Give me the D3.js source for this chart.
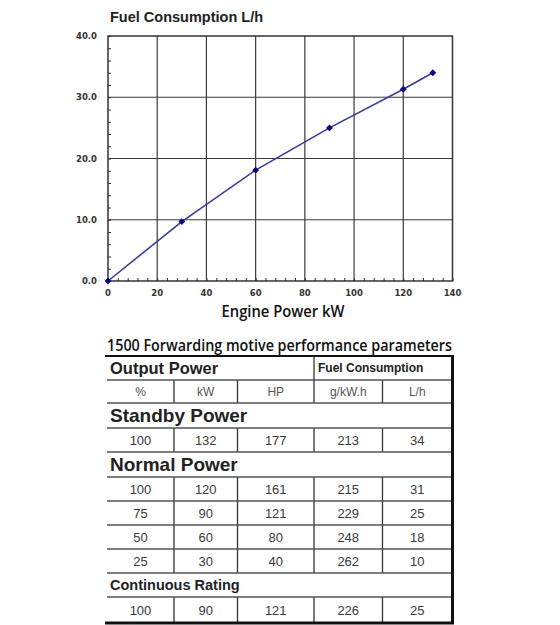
<!DOCTYPE html>
<html>
<head>
<meta charset="utf-8">
<script src="https://cdn.jsdelivr.net/npm/d3@7"></script>
<style>
  body { margin: 0; background: #fff; }
  svg { display: block; }
</style>
</head>
<body>
<svg width="560" height="625"></svg>
<script>
// curve points
const powerKw = [0, 30, 60, 90, 120, 132]
const fuelLh = [0, 9.7, 18.1, 25.0, 31.3, 34.0]
const xTicks = [0, 20, 40, 60, 80, 100, 120, 140]
const yTicks = [0, 10, 20, 30, 40]

// table
const colHeads = ['%', 'kW', 'HP', 'g/kW.h', 'L/h']
const standbyRows = [[100, 132, 177, 213, 34]]
const normalRows = [
  [100, 120, 161, 215, 31],
  [75, 90, 121, 229, 25],
  [50, 60, 80, 248, 18],
  [25, 30, 40, 262, 10]
]
const continuousRows = [[100, 90, 121, 226, 25]]

let svg = d3.select('svg')

// ---------- chart ----------
let x = d3.scaleLinear().domain([0, 140]).range([108, 452.5])
let y = d3.scaleLinear().domain([0, 40]).range([281, 36])

svg.append('text')
  .text('Fuel Consumption L/h')
  .attr('x', 110).attr('y', 21.5)
  .attr('font-family', 'Liberation Sans, Arial, sans-serif')
  .attr('font-weight', 'bold')
  .attr('font-size', 14.5)
  .attr('fill', '#222')

let plot = svg.append('g')

// grid
plot.selectAll('.vg').data(xTicks.slice(1, -1)).enter()
  .append('line')
  .attr('x1', d => x(d)).attr('x2', d => x(d))
  .attr('y1', y(40)).attr('y2', y(0))
  .attr('stroke', '#3a3a3a').attr('stroke-width', 1.2)
plot.selectAll('.hg').data(yTicks.slice(1, -1)).enter()
  .append('line')
  .attr('x1', x(0)).attr('x2', x(140))
  .attr('y1', d => y(d)).attr('y2', d => y(d))
  .attr('stroke', '#3a3a3a').attr('stroke-width', 1.2)

plot.append('rect')
  .attr('x', x(0)).attr('y', y(40))
  .attr('width', x(140) - x(0)).attr('height', y(0) - y(40))
  .attr('fill', 'none').attr('stroke', '#333').attr('stroke-width', 1.5)

// inward minor ticks
let xAxis = d3.axisTop(x).tickValues(d3.range(0, 141, 4)).tickSize(3).tickFormat('')
plot.append('g').attr('transform', `translate(0,${y(0)})`).call(xAxis)
  .call(g => g.select('.domain').remove())
  .selectAll('line').attr('stroke', '#333')
let yAxis = d3.axisRight(y).tickValues(d3.range(0, 41, 2)).tickSize(3).tickFormat('')
plot.append('g').attr('transform', `translate(${x(0)},0)`).call(yAxis)
  .call(g => g.select('.domain').remove())
  .selectAll('line').attr('stroke', '#333')

// tick labels
plot.selectAll('.xl').data(xTicks).enter()
  .append('text')
  .text(d => d)
  .attr('x', d => x(d)).attr('y', 296)
  .attr('text-anchor', 'middle')
  .attr('font-family', 'DejaVu Sans, sans-serif')
  .attr('font-weight', 'bold')
  .attr('font-size', 8.5)
  .attr('fill', '#333')
plot.selectAll('.yl').data(yTicks).enter()
  .append('text')
  .text(d => d3.format('.1f')(d))
  .attr('x', 97).attr('y', d => y(d) + 3)
  .attr('text-anchor', 'end')
  .attr('font-family', 'DejaVu Sans, sans-serif')
  .attr('font-weight', 'bold')
  .attr('font-size', 8.5)
  .attr('fill', '#333')

svg.append('text')
  .text('Engine Power kW')
  .attr('x', 283).attr('y', 316.5)
  .attr('text-anchor', 'middle')
  .attr('textLength', 123).attr('lengthAdjust', 'spacingAndGlyphs')
  .attr('font-family', 'Open Sans, sans-serif')
  .attr('font-weight', 600)
  .attr('font-size', 15.5)
  .attr('fill', '#111')

// line + markers
let pts = powerKw.map((p, i) => [p, fuelLh[i]])
plot.append('path')
  .datum(pts)
  .attr('d', d3.line().x(d => x(d[0])).y(d => y(d[1])))
  .attr('fill', 'none')
  .attr('stroke', '#3b3b9c')
  .attr('stroke-width', 1.6)
plot.selectAll('.pt').data(pts).enter()
  .append('path')
  .attr('d', d3.symbol(d3.symbolDiamond2, 30))
  .attr('transform', d => `translate(${x(d[0])},${y(d[1])})`)
  .attr('fill', '#0a0a80')

// ---------- table ----------
svg.append('text')
  .text('1500 Forwarding motive performance parameters')
  .attr('x', 107).attr('y', 350.5)
  .attr('textLength', 345).attr('lengthAdjust', 'spacingAndGlyphs')
  .attr('font-family', 'Open Sans, sans-serif')
  .attr('font-weight', 600)
  .attr('font-size', 15.5)
  .attr('fill', '#111')

const cols = [107, 174, 237.5, 314, 382.5, 452]
const rowEdges = [356, 380, 403, 428, 452, 477, 501, 525, 549, 573, 597, 623]
let tbl = svg.append('g')
let cx = i => (cols[i] + cols[i + 1]) / 2
let font = 'Liberation Sans, Arial, sans-serif'

// row layout: kind of each row
let rows = [
  { kind: 'top' },
  { kind: 'head', cells: colHeads },
  { kind: 'section', label: 'Standby Power', size: 19 },
  ...standbyRows.map(r => ({ kind: 'data', cells: r })),
  { kind: 'section', label: 'Normal Power', size: 19 },
  ...normalRows.map(r => ({ kind: 'data', cells: r })),
  { kind: 'section', label: 'Continuous Rating', size: 14.5 },
  ...continuousRows.map(r => ({ kind: 'data', cells: r }))
]

rows.forEach((r, i) => {
  let y0 = rowEdges[i], y1 = rowEdges[i + 1]
  let mid = (y0 + y1) / 2
  if (r.kind === 'top') {
    tbl.append('text').text('Output Power')
      .attr('x', 110).attr('y', mid + 6)
      .attr('font-family', font).attr('font-weight', 'bold')
      .attr('font-size', 16.5).attr('fill', '#222')
    tbl.append('text').text('Fuel Consumption')
      .attr('x', 318).attr('y', mid + 4)
      .attr('font-family', font).attr('font-weight', 'bold')
      .attr('font-size', 12).attr('fill', '#222')
    tbl.append('line')
      .attr('x1', cols[3]).attr('x2', cols[3]).attr('y1', y0).attr('y2', y1)
      .attr('stroke', '#333').attr('stroke-width', 1.3)
  } else if (r.kind === 'section') {
    tbl.append('text').text(r.label)
      .attr('x', 110).attr('y', mid + r.size * 0.36)
      .attr('font-family', font).attr('font-weight', 'bold')
      .attr('font-size', r.size).attr('fill', '#222')
  } else {
    r.cells.forEach((c, j) => {
      tbl.append('text').text(c)
        .attr('x', cx(j)).attr('y', mid + 4.5)
        .attr('text-anchor', 'middle')
        .attr('font-family', font)
        .attr('font-size', r.kind === 'head' ? 12 : 13)
        .attr('fill', r.kind === 'head' ? '#555' : '#3a3a3a')
    })
    cols.slice(1, -1).forEach(cxp => {
      tbl.append('line')
        .attr('x1', cxp).attr('x2', cxp).attr('y1', y0).attr('y2', y1)
        .attr('stroke', '#333').attr('stroke-width', 1.3)
    })
  }
})

// horizontal rules
tbl.selectAll('.hr').data(rowEdges.slice(1, -1)).enter()
  .append('line')
  .attr('x1', 107).attr('x2', 452)
  .attr('y1', d => d).attr('y2', d => d)
  .attr('stroke', '#555').attr('stroke-width', 1.6)

// outer frame: heavy top, right and bottom
tbl.append('line').attr('x1', 105).attr('x2', 453.5).attr('y1', 356).attr('y2', 356)
  .attr('stroke', '#111').attr('stroke-width', 2.2)
tbl.append('line').attr('x1', 452.5).attr('x2', 452.5).attr('y1', 355).attr('y2', 624)
  .attr('stroke', '#111').attr('stroke-width', 3)
tbl.append('line').attr('x1', 105).attr('x2', 454).attr('y1', 623).attr('y2', 623)
  .attr('stroke', '#111').attr('stroke-width', 3)
</script>
</body>
</html>
